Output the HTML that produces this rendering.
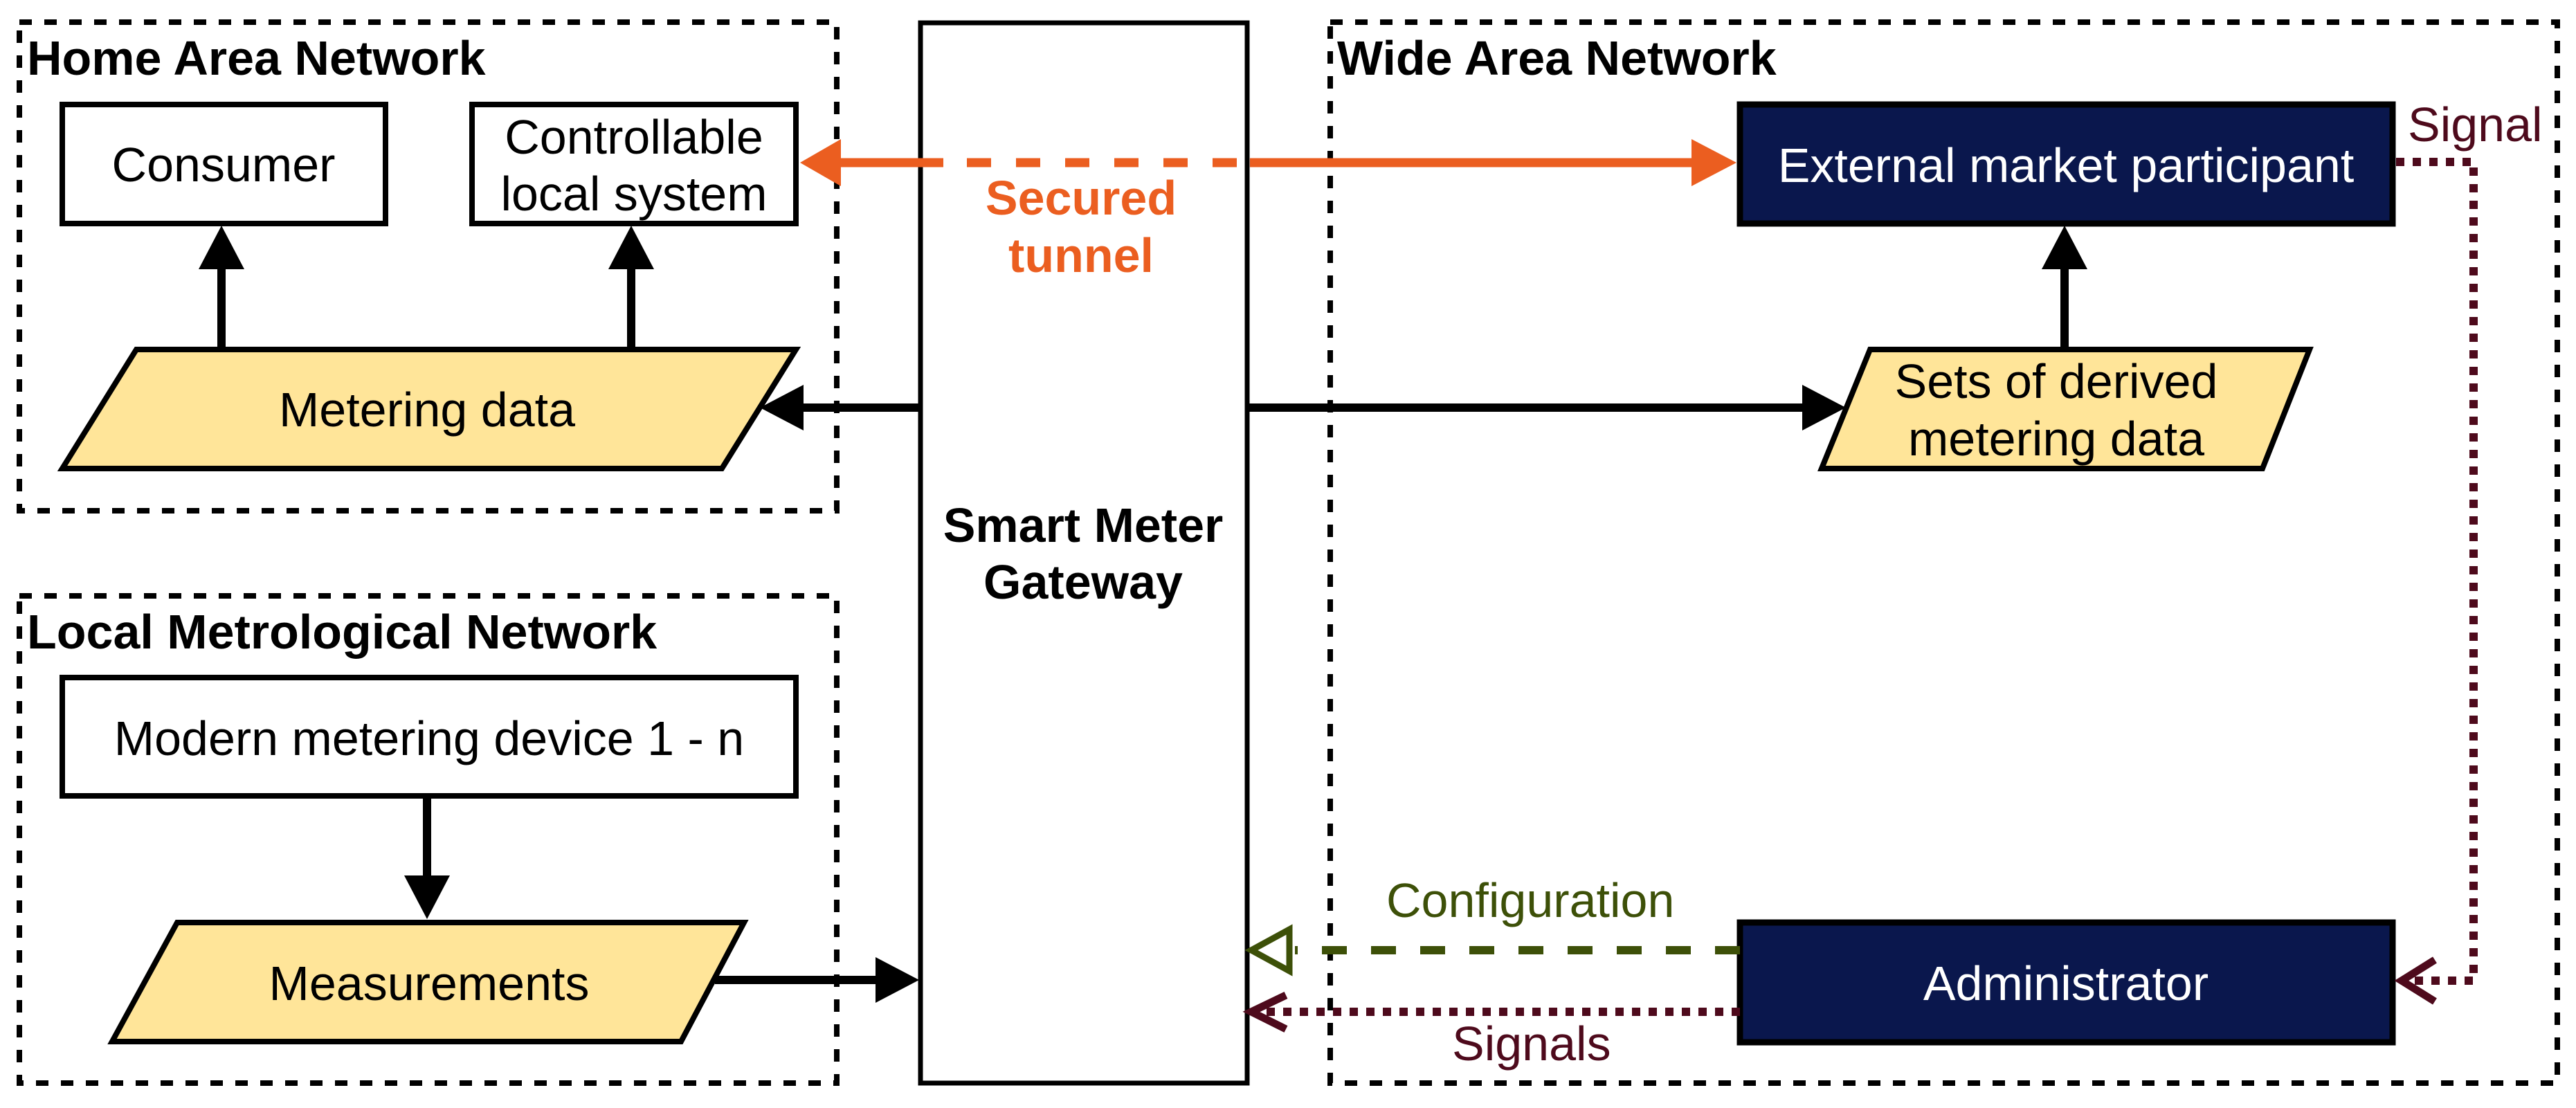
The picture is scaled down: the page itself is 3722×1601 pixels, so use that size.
<!DOCTYPE html>
<html><head><meta charset="utf-8"><style>
html,body{margin:0;padding:0;background:#fff;}
svg{display:block;}
text{font-family:"Liberation Sans",Arial,sans-serif;font-size:70px;}
.b{font-weight:bold;}
</style></head><body>
<svg width="3722" height="1601" viewBox="0 0 3722 1601" xmlns="http://www.w3.org/2000/svg">
<g fill="none" stroke="#000" stroke-width="8" stroke-dasharray="18 18">
<rect x="28" y="32" width="1181" height="706"/>
<rect x="28" y="861" width="1181" height="704"/>
<rect x="1922" y="32" width="1773" height="1533"/>
</g>
<text class="b" x="39" y="108">Home Area Network</text>
<text class="b" x="1932" y="108">Wide Area Network</text>
<text class="b" x="39" y="937">Local Metrological Network</text>

<rect x="1330" y="33" width="472" height="1532" fill="#fff" stroke="#000" stroke-width="7"/>
<text class="b" x="1565" y="783" text-anchor="middle">Smart Meter</text>
<text class="b" x="1565" y="865" text-anchor="middle">Gateway</text>

<rect x="90" y="151" width="467" height="172" fill="#fff" stroke="#000" stroke-width="8"/>
<text x="323" y="262" text-anchor="middle">Consumer</text>
<rect x="682" y="151" width="468" height="172" fill="#fff" stroke="#000" stroke-width="8"/>
<text x="916" y="222" text-anchor="middle">Controllable</text>
<text x="916" y="304" text-anchor="middle">local system</text>
<polygon points="197,505 1150,505 1043,677 90,677" fill="#FFE599" stroke="#000" stroke-width="8"/>
<text x="617" y="616" text-anchor="middle">Metering data</text>

<rect x="90" y="979" width="1060" height="171" fill="#fff" stroke="#000" stroke-width="8"/>
<text x="620" y="1091" text-anchor="middle">Modern metering device 1 - n</text>
<polygon points="256,1333 1075,1333 984,1505 162,1505" fill="#FFE599" stroke="#000" stroke-width="8"/>
<text x="620" y="1445" text-anchor="middle">Measurements</text>

<rect x="2514" y="151" width="943" height="172" fill="#0A174D" stroke="#000" stroke-width="9"/>
<text x="2985" y="263" text-anchor="middle" fill="#fff">External market participant</text>
<polygon points="2702,505 3337,505 3269,677 2632,677" fill="#FFE599" stroke="#000" stroke-width="8"/>
<text x="2971" y="575" text-anchor="middle">Sets of derived</text>
<text x="2971" y="658" text-anchor="middle">metering data</text>
<rect x="2514" y="1333" width="943" height="173" fill="#0A174D" stroke="#000" stroke-width="9"/>
<text x="2985" y="1445" text-anchor="middle" fill="#fff">Administrator</text>

<g stroke="#000" stroke-width="12" fill="none">
<line x1="320" y1="505" x2="320" y2="385"/>
<line x1="912" y1="505" x2="912" y2="385"/>
<line x1="1330" y1="589" x2="1150" y2="589"/>
<line x1="1802" y1="589" x2="2610" y2="589"/>
<line x1="2983" y1="505" x2="2983" y2="385"/>
<line x1="617" y1="1150" x2="617" y2="1270"/>
<line x1="1033" y1="1416" x2="1270" y2="1416"/>
</g>
<g fill="#000">
<polygon points="320,326 287,389 353,389"/>
<polygon points="912,326 879,389 945,389"/>
<polygon points="1098,589 1161,556 1161,622"/>
<polygon points="2667,589 2604,556 2604,622"/>
<polygon points="2983,326 2950,389 3016,389"/>
<polygon points="617,1328 584,1265 650,1265"/>
<polygon points="1328,1416 1265,1383 1265,1449"/>
</g>

<g stroke="#EB5E20" stroke-width="13" fill="none">
<line x1="1210" y1="235" x2="1363" y2="235"/>
<line x1="1397" y1="235" x2="1790" y2="235" stroke-dasharray="35 36"/>
<line x1="1806" y1="235" x2="2450" y2="235"/>
</g>
<g fill="#EB5E20">
<polygon points="1156,235 1215,201 1215,269"/>
<polygon points="2509,235 2444,201 2444,269"/>
</g>
<text class="b" x="1562" y="310" text-anchor="middle" fill="#EB5E20">Secured</text>
<text class="b" x="1562" y="393" text-anchor="middle" fill="#EB5E20">tunnel</text>

<g stroke="#4E0A1C" stroke-width="12" fill="none" stroke-dasharray="12 12">
<polyline points="3462,234 3574,234 3574,1417 3480,1417"/>
<line x1="2514" y1="1462" x2="1820" y2="1462"/>
</g>
<g stroke="#4E0A1C" stroke-width="11" fill="none">
<polyline points="3518,1387 3470,1417 3518,1447"/>
<polyline points="1858,1438 1808,1462 1858,1487"/>
</g>
<text x="3479" y="204" fill="#4E0A1C">Signal</text>
<text x="2098" y="1532" fill="#4E0A1C">Signals</text>

<line x1="2514" y1="1373" x2="1871" y2="1373" stroke="#3D5008" stroke-width="12" stroke-dasharray="36 35"/>
<polygon points="1808,1373 1863,1343 1863,1403" fill="none" stroke="#3D5008" stroke-width="9"/>
<text x="2003" y="1325" fill="#3D5008">Configuration</text>
</svg>
</body></html>
